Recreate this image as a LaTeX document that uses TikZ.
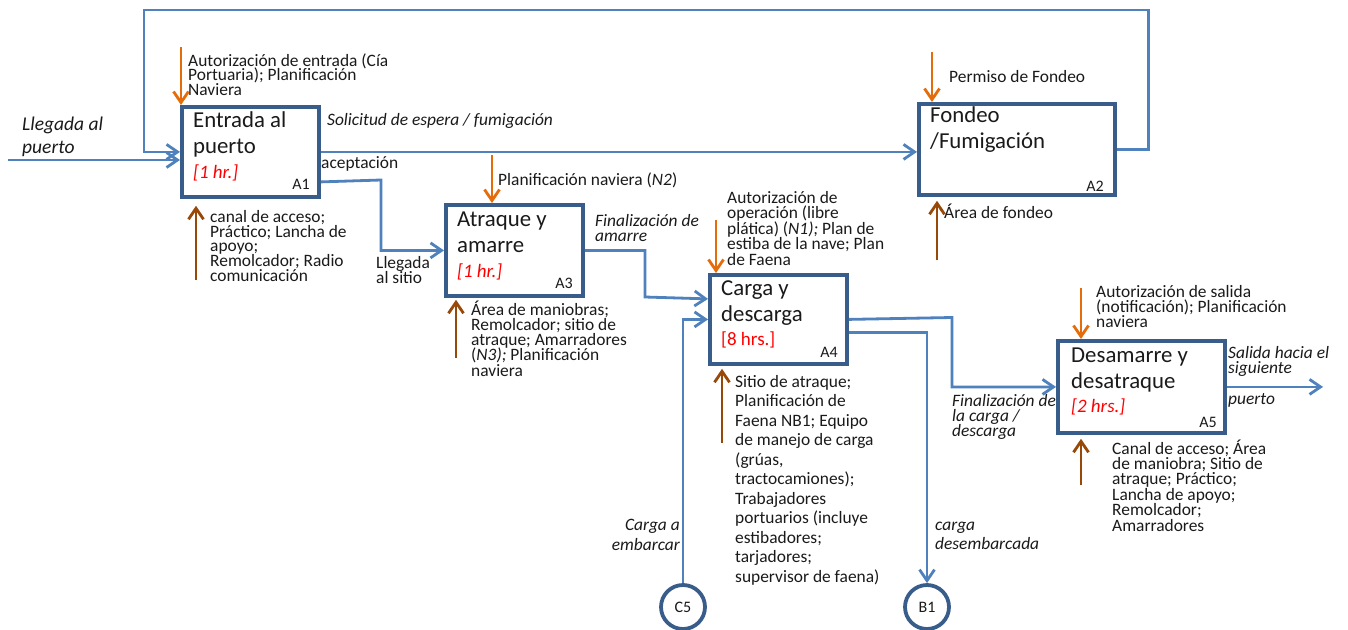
\documentclass[tikz,border=0pt]{standalone}
\usepackage{fontspec}
\setmainfont{Carlito}
\usetikzlibrary{arrows.meta}
\definecolor{flowblue}{HTML}{4F81BD}
\definecolor{boxblue}{HTML}{385D8A}
\definecolor{ctrlorange}{HTML}{E46C0A}
\definecolor{mechbrown}{HTML}{984807}
\definecolor{ink}{HTML}{1A1A1A}
\definecolor{durred}{HTML}{FF0000}
% fixed font size and line pitch, with no extra gap between crowded lines
\newcommand\setpitch[2]{\fontsize{#1}{#2}\selectfont\lineskiplimit=-50pt\relax}

\begin{document}
\begin{tikzpicture}[x=1pt,y=-1pt,
  >={Straight Barb[length=11pt,width=15pt]},
  flow/.style={draw=flowblue,line width=2.8pt,->},
  ctrl/.style={draw=ctrlorange,line width=2.8pt,->},
  mech/.style={draw=mechbrown,line width=2.8pt,->},
  procbox/.style={draw=boxblue,line width=3.8pt,fill=white,anchor=north west,inner sep=0pt},
  port/.style={circle,draw=boxblue,line width=3.8pt,fill=white,minimum size=44pt,inner sep=0pt,
    text=ink,font={\setpitch{16}{19}}},
  % multi-line labels are placed by the baseline of their last line
  txt/.style={align=left,inner sep=0pt,anchor=base west,text=ink,font={\setpitch{17.4}{14.8}}},
  itxt/.style={txt,font={\setpitch{17.4}{14.8}\itshape}},
  boxtitle/.style={align=left,inner sep=0pt,anchor=base west,text=ink,font={\setpitch{22.8}{26}}},
  durtext/.style={inner sep=0pt,anchor=base west,text=durred,font={\setpitch{19}{22}\itshape}},
  codetext/.style={inner sep=0pt,anchor=base east,text=ink,font={\setpitch{16}{19}}}]

\useasboundingbox (0,0) rectangle (1348,629);
\fill[white] (0,0) rectangle (1348,629);

% activity boxes
\node[procbox,minimum width=137pt,minimum height=90pt] (A1) at (180,105) {};
\node[procbox,minimum width=196pt,minimum height=91pt] (A2) at (917,102) {};
\node[procbox,minimum width=137pt,minimum height=91pt] (A3) at (444,203) {};
\node[procbox,minimum width=137pt,minimum height=89pt] (A4) at (708,273) {};
\node[procbox,minimum width=167pt,minimum height=92pt] (A5) at (1056,339) {};

% off-page connectors
\node[port] (C5) at (683,607) {C5};
\node[port] (B1) at (927,607) {B1};

% box contents
\node[boxtitle] (n1) at (193,153) {Entrada al\\puerto};
\node[durtext] (d1) at (193,178) {[1 hr.]};
\node[codetext] (k1) at (310,189) {A1};

\node[boxtitle] (n2) at (930,148) {Fondeo\\/Fumigación};
\node[codetext] (k2) at (1104,191) {A2};

\node[boxtitle] (n3) at (457,252) {Atraque y\\amarre};
\node[durtext] (d3) at (457,277) {[1 hr.]};
\node[codetext] (k3) at (573,288) {A3};

\node[boxtitle] (n4) at (721,321) {Carga y\\descarga};
\node[durtext,font={\setpitch{19}{22}}] (d4) at (721,345) {[8 hrs.]};
\node[codetext] (k4) at (838,357) {A4};

\node[boxtitle] (n5) at (1071,388) {Desamarre y\\desatraque};
\node[durtext] (d5) at (1071,412) {[2 hrs.]};
\node[codetext] (k5) at (1217,427) {A5};

% inputs and outputs
\coordinate (in0) at (8,160);
\coordinate (out0) at (1323,385);
\draw[flow] (in0) -- (A1.west |- in0);
\draw[flow] (A2.east) -- ++(32,0) |- (144,10) |- (A1.west);
\draw[flow] (A1.east) -- (A2.west |- A1.east);
\draw[flow] ([yshift=-30pt]A1.east) -- (381,180) |- (A3.west);
\draw[flow] (A3.east) -| (645,297) -- ([yshift=20.5pt]A4.west);
\draw[flow] (C5.north) |- (A4.west);
\draw[flow] (A4.east) -- (952,317.5) |- (A5.west);
\draw[flow] ([yshift=-13pt]A4.east) -| (B1.north);
\draw[flow] (A5.east) -- (out0 |- A5.east);

% controls
\coordinate (c1) at (181,47);
\coordinate (c2) at (932,52);
\coordinate (c3) at (492,155);
\coordinate (c4) at (716,220);
\coordinate (c5) at (1081,288);
\draw[ctrl] (c1) -- (c1 |- A1.north);
\draw[ctrl] (c2) -- (c2 |- A2.north);
\draw[ctrl] (c3) -- (c3 |- A3.north);
\draw[ctrl] (c4) -- (c4 |- A4.north);
\draw[ctrl] (c5) -- (c5 |- A5.north);

% mechanisms
\coordinate (m1) at (196,280);
\coordinate (m2) at (937,260);
\coordinate (m3) at (456,358);
\coordinate (m4) at (722,443);
\coordinate (m5) at (1081,485);
\draw[mech] (m1) -- ([yshift=-7pt]m1 |- A1.south);
\draw[mech] (m2) -- ([yshift=-4pt]m2 |- A2.south);
\draw[mech] (m3) -- ([yshift=-2pt]m3 |- A3.south);
\draw[mech] (m4) -- ([yshift=-3pt]m4 |- A4.south);
\draw[mech] (m5) -- ([yshift=-4pt]m5 |- A5.south);

% labels
\node[itxt,font={\setpitch{19.5}{23}\itshape}] (tin) at (22,153) {Llegada al\\puerto};
\node[txt] (t1c) at (188,95.6) {Autorización de entrada (Cía\\Portuaria); Planificación\\Naviera};
\node[txt] (t1m) at (210,281.5) {canal de acceso;\\Práctico; Lancha de\\apoyo;\\Remolcador; Radio\\comunicación};
\node[itxt] (t12) at (327,125) {Solicitud de espera / fumigación};
\node[txt] (t13) at (321,168) {aceptación};
\node[txt] (t13b) at (376,283) {Llegada\\al sitio};
\node[txt] (t2c) at (949,82) {Permiso de Fondeo};
\node[txt] (t2m) at (944,218) {Área de fondeo};
\node[txt] (t3c) at (498,185) {Planificación naviera (\textit{N2})};
\node[txt,font={\setpitch{17.4}{15.1}}] (t3m) at (471,376) {Área de maniobras;\\Remolcador; sitio de\\atraque; Amarradores\\(\textit{N3);} Planificación\\naviera};
\node[itxt] (t34) at (595,241) {Finalización de\\amarre};
\node[txt,font={\setpitch{17.4}{15.4}}] (t4c) at (727,265) {Autorización de\\operación (libre\\plática) (\textit{N1);} Plan de\\estiba de la nave; Plan\\de Faena};
\node[txt,font={\setpitch{17.4}{19.5}}] (t4m) at (735,582) {Sitio de atraque;\\Planificación de\\Faena NB1; Equipo\\de manejo de carga\\(grúas,\\tractocamiones);\\Trabajadores\\portuarios (incluye\\estibadores;\\tarjadores;\\supervisor de faena)};
\node[itxt,align=right,anchor=base east,font={\setpitch{17.4}{20}\itshape}] (t54) at (680,550) {Carga a\\embarcar};
\node[itxt,font={\setpitch{17.4}{19}\itshape}] (t4b) at (935,549) {carga\\desembarcada};
\node[itxt] (t45) at (952,436) {Finalización de\\la carga /\\descarga};
\node[txt] (t5c) at (1096,327) {Autorización de salida\\(notificación); Planificación\\naviera};
\node[txt,font={\setpitch{17.4}{15.4}}] (t5m) at (1112,531) {Canal de acceso; Área\\de maniobra; Sitio de\\atraque; Práctico;\\Lancha de apoyo;\\Remolcador;\\Amarradores};
\node[itxt] (t5o) at (1228,373) {Salida hacia el\\siguiente};
\node[itxt] (t5p) at (1228,404) {puerto};
\end{tikzpicture}
\end{document}
